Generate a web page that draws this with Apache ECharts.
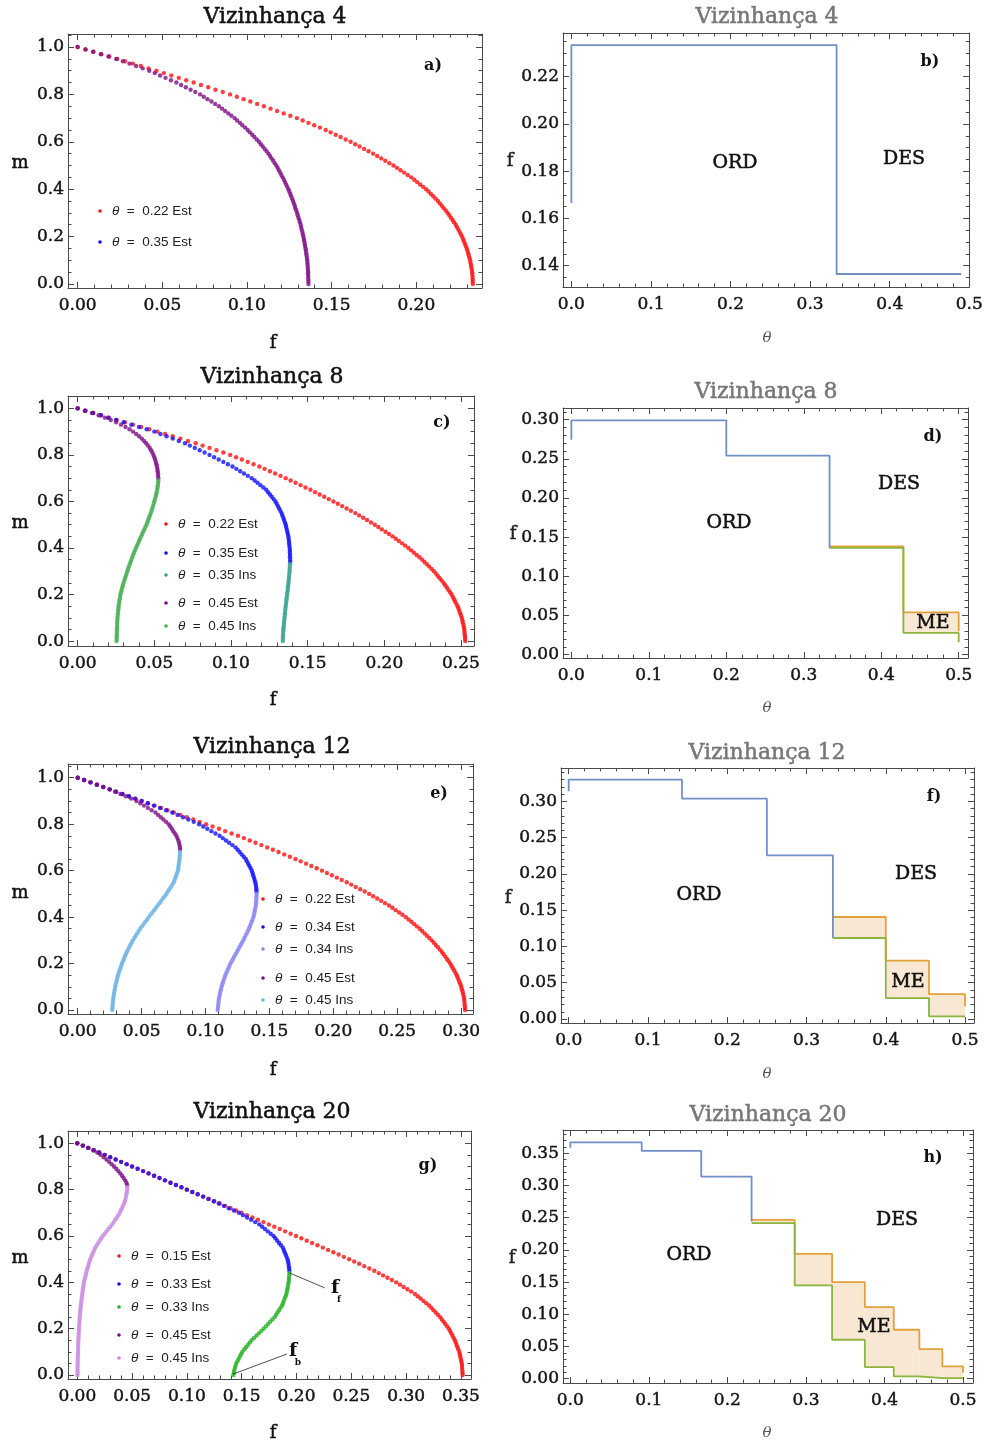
<!DOCTYPE html>
<html>
<head>
<meta charset="utf-8">
<script src="https://cdn.jsdelivr.net/npm/echarts@6/dist/echarts.min.js"></script>
<style>
html,body{margin:0;padding:0;background:#fff;}
#chart{width:986px;height:1445px;}
</style>
</head>
<body>
<div id="chart"></div>
<script>
// ---------- magnetisation curves m(f): one f value per m on the grid below ----------
const mGrid = [1.00,0.99,0.98,0.97,0.96,0.95,0.94,0.93,0.92,0.91,0.90,0.89,0.88,0.87,0.86,0.85,0.84,0.83,0.82,0.81,
  0.80,0.79,0.78,0.77,0.76,0.75,0.74,0.73,0.72,0.71,0.70,0.69,0.68,0.67,0.66,0.65,0.64,0.63,0.62,0.61,
  0.60,0.59,0.58,0.57,0.56,0.55,0.54,0.53,0.52,0.51,0.50,0.49,0.48,0.47,0.46,0.45,0.44,0.43,0.42,0.41,
  0.40,0.39,0.38,0.37,0.36,0.35,0.34,0.33,0.32,0.31,0.30,0.29,0.28,0.27,0.26,0.25,0.24,0.23,0.22,0.21,
  0.20,0.19,0.18,0.17,0.16,0.15,0.14,0.13,0.12,0.11,0.10,0.09,0.08,0.07,0.06,0.05,0.04,0.03,0.02,0.01,0.00];

// Vizinhança 4 (stable branches start at m = 1)
const aEst022 = [0.0000,0.0047,0.0094,0.0140,0.0187,0.0234,0.0280,0.0326,0.0373,0.0419,
  0.0465,0.0509,0.0553,0.0597,0.0641,0.0685,0.0728,0.0771,0.0814,0.0857,
  0.0900,0.0940,0.0980,0.1020,0.1060,0.1100,0.1139,0.1178,0.1217,0.1256,
  0.1295,0.1329,0.1363,0.1397,0.1431,0.1465,0.1494,0.1524,0.1553,0.1583,
  0.1612,0.1639,0.1665,0.1692,0.1718,0.1745,0.1769,0.1793,0.1817,0.1841,
  0.1865,0.1886,0.1907,0.1928,0.1949,0.1970,0.1988,0.2005,0.2023,0.2040,
  0.2058,0.2072,0.2086,0.2100,0.2114,0.2128,0.2139,0.2151,0.2162,0.2174,
  0.2185,0.2195,0.2204,0.2214,0.2223,0.2233,0.2240,0.2248,0.2255,0.2263,
  0.2270,0.2276,0.2281,0.2287,0.2292,0.2298,0.2302,0.2306,0.2310,0.2314,
  0.2318,0.2320,0.2323,0.2325,0.2328,0.2330,0.2331,0.2332,0.2333,0.2333,0.2334];
const aEst035 = [0.0000,0.0046,0.0091,0.0137,0.0182,0.0228,0.0267,0.0306,0.0345,0.0384,
  0.0423,0.0455,0.0487,0.0519,0.0551,0.0583,0.0611,0.0639,0.0667,0.0695,
  0.0723,0.0745,0.0767,0.0790,0.0812,0.0834,0.0853,0.0871,0.0890,0.0908,
  0.0927,0.0942,0.0958,0.0973,0.0989,0.1004,0.1017,0.1031,0.1044,0.1058,
  0.1071,0.1082,0.1093,0.1105,0.1116,0.1127,0.1136,0.1145,0.1155,0.1164,
  0.1173,0.1181,0.1188,0.1196,0.1203,0.1211,0.1218,0.1225,0.1231,0.1238,
  0.1245,0.1250,0.1256,0.1261,0.1267,0.1272,0.1277,0.1282,0.1286,0.1291,
  0.1296,0.1300,0.1304,0.1309,0.1313,0.1317,0.1320,0.1323,0.1327,0.1330,
  0.1333,0.1336,0.1338,0.1341,0.1343,0.1346,0.1348,0.1350,0.1352,0.1354,
  0.1356,0.1357,0.1358,0.1359,0.1360,0.1361,0.1361,0.1362,0.1362,0.1363,0.1363];

// Vizinhança 8 (unstable branches end at m = 0)
const cEst022 = [0.0000,0.0051,0.0102,0.0153,0.0204,0.0255,0.0308,0.0361,0.0414,0.0467,
  0.0520,0.0570,0.0620,0.0670,0.0720,0.0770,0.0815,0.0860,0.0905,0.0950,
  0.0995,0.1033,0.1071,0.1109,0.1147,0.1185,0.1219,0.1254,0.1288,0.1323,
  0.1357,0.1389,0.1421,0.1454,0.1486,0.1518,0.1548,0.1578,0.1608,0.1638,
  0.1668,0.1697,0.1725,0.1754,0.1782,0.1811,0.1836,0.1862,0.1887,0.1913,
  0.1938,0.1961,0.1984,0.2008,0.2031,0.2054,0.2075,0.2095,0.2116,0.2136,
  0.2157,0.2175,0.2193,0.2211,0.2229,0.2247,0.2262,0.2278,0.2293,0.2309,
  0.2324,0.2337,0.2349,0.2362,0.2374,0.2387,0.2397,0.2408,0.2418,0.2429,
  0.2439,0.2447,0.2455,0.2462,0.2470,0.2478,0.2484,0.2489,0.2495,0.2500,
  0.2506,0.2509,0.2512,0.2516,0.2519,0.2522,0.2523,0.2524,0.2526,0.2527,0.2528];
const cEst035 = [0.0000,0.0050,0.0100,0.0150,0.0200,0.0250,0.0300,0.0350,0.0400,0.0450,
  0.0500,0.0540,0.0580,0.0620,0.0660,0.0700,0.0732,0.0764,0.0796,0.0828,
  0.0860,0.0890,0.0920,0.0950,0.0980,0.1010,0.1035,0.1060,0.1085,0.1110,
  0.1135,0.1154,0.1173,0.1192,0.1211,0.1230,0.1242,0.1254,0.1266,0.1278,
  0.1290,0.1298,0.1306,0.1314,0.1322,0.1330,0.1335,0.1341,0.1346,0.1352,
  0.1357,0.1360,0.1364,0.1367,0.1371,0.1374,0.1376,0.1378,0.1379,0.1381,
  0.1383,0.1384,0.1384,0.1385,0.1385,0.1386,0.1386];
const cIns035 = [0.1385,0.1384,0.1383,0.1382,0.1381,0.1379,0.1378,0.1376,0.1375,0.1373,
  0.1371,0.1370,0.1368,0.1366,0.1364,0.1362,0.1361,0.1359,0.1357,0.1355,
  0.1354,0.1352,0.1351,0.1349,0.1348,0.1346,0.1345,0.1343,0.1342,0.1341,
  0.1340,0.1339,0.1338,0.1338];
const cEst045 = [0.0000,0.0047,0.0093,0.0137,0.0178,0.0216,0.0251,0.0283,0.0312,0.0338,
  0.0361,0.0382,0.0401,0.0418,0.0433,0.0447,0.0459,0.0470,0.0479,0.0487,
  0.0494,0.0500,0.0505,0.0510,0.0514,0.0517,0.0520,0.0522,0.0524,0.0525,0.0526];
const cIns045 = [0.0526,0.0525,0.0523,0.0521,0.0519,
  0.0516,0.0512,0.0509,0.0504,0.0500,0.0496,0.0491,0.0487,0.0482,0.0477,
  0.0471,0.0466,0.0460,0.0455,0.0449,0.0442,0.0435,0.0428,0.0421,0.0414,
  0.0407,0.0400,0.0394,0.0387,0.0380,0.0374,0.0368,0.0362,0.0356,0.0350,
  0.0345,0.0340,0.0334,0.0329,0.0324,0.0319,0.0314,0.0309,0.0304,0.0299,
  0.0295,0.0291,0.0287,0.0283,0.0279,0.0277,0.0274,0.0272,0.0269,0.0267,
  0.0266,0.0264,0.0263,0.0261,0.0260,0.0259,0.0258,0.0258,0.0257,0.0256,
  0.0256,0.0255,0.0255,0.0254,0.0254];

// Vizinhança 12
const eEst022 = [0.0000,0.0050,0.0100,0.0150,0.0200,0.0250,0.0300,0.0350,0.0400,0.0450,
  0.0500,0.0550,0.0601,0.0651,0.0702,0.0752,0.0803,0.0853,0.0904,0.0954,
  0.1005,0.1055,0.1105,0.1154,0.1204,0.1254,0.1300,0.1346,0.1391,0.1437,
  0.1483,0.1527,0.1571,0.1616,0.1660,0.1704,0.1745,0.1787,0.1828,0.1870,
  0.1911,0.1950,0.1989,0.2027,0.2066,0.2105,0.2140,0.2175,0.2211,0.2246,
  0.2281,0.2312,0.2343,0.2374,0.2405,0.2436,0.2462,0.2488,0.2515,0.2541,
  0.2567,0.2589,0.2611,0.2632,0.2654,0.2676,0.2695,0.2714,0.2732,0.2751,
  0.2770,0.2786,0.2802,0.2818,0.2834,0.2850,0.2863,0.2876,0.2889,0.2902,
  0.2915,0.2925,0.2935,0.2946,0.2956,0.2966,0.2973,0.2980,0.2988,0.2995,
  0.3002,0.3006,0.3011,0.3015,0.3020,0.3024,0.3025,0.3027,0.3028,0.3030,0.3031];
const eEst034 = [0.0000,0.0050,0.0100,0.0150,0.0200,0.0250,0.0300,0.0350,0.0400,0.0450,
  0.0500,0.0548,0.0596,0.0644,0.0692,0.0740,0.0782,0.0824,0.0866,0.0908,
  0.0950,0.0982,0.1014,0.1046,0.1078,0.1110,0.1135,0.1160,0.1185,0.1210,
  0.1235,0.1251,0.1267,0.1283,0.1299,0.1315,0.1324,0.1334,0.1343,0.1353,
  0.1362,0.1368,0.1373,0.1379,0.1384,0.1390,0.1393,0.1396,0.1398,0.1399];
const eIns034 = [0.1400,0.1399,0.1398,0.1397,0.1395,0.1394,0.1390,0.1386,0.1383,0.1379,
  0.1375,0.1368,0.1361,0.1354,0.1347,0.1340,0.1331,0.1322,0.1313,0.1304,
  0.1295,0.1285,0.1275,0.1265,0.1255,0.1245,0.1235,0.1225,0.1215,0.1205,
  0.1195,0.1187,0.1179,0.1171,0.1163,0.1155,0.1149,0.1143,0.1137,0.1131,
  0.1125,0.1121,0.1117,0.1113,0.1109,0.1105,0.1103,0.1101,0.1099,0.1097,0.1095];
const eEst045 = [0.0000,0.0050,0.0100,0.0150,0.0200,0.0250,0.0292,0.0334,0.0376,0.0418,
  0.0460,0.0490,0.0519,0.0549,0.0578,0.0608,0.0629,0.0650,0.0670,0.0691,
  0.0712,0.0724,0.0736,0.0748,0.0760,0.0772,0.0780,0.0787,0.0793,0.0797,0.0800,0.0801];
const eIns045 = [0.0800,0.0799,0.0798,
  0.0797,0.0794,0.0792,0.0789,0.0787,0.0784,0.0778,0.0771,0.0765,0.0758,
  0.0752,0.0740,0.0729,0.0717,0.0706,0.0694,0.0680,0.0667,0.0653,0.0640,
  0.0626,0.0612,0.0598,0.0584,0.0570,0.0556,0.0543,0.0529,0.0516,0.0502,
  0.0489,0.0477,0.0466,0.0454,0.0443,0.0431,0.0422,0.0412,0.0403,0.0393,
  0.0384,0.0376,0.0369,0.0361,0.0354,0.0346,0.0340,0.0334,0.0327,0.0321,
  0.0315,0.0311,0.0306,0.0302,0.0297,0.0293,0.0290,0.0287,0.0284,0.0281,
  0.0278,0.0276,0.0275,0.0273,0.0272,0.0270];

// Vizinhança 20
const gEst015 = [0.0000,0.0050,0.0100,0.0150,0.0200,0.0250,0.0300,0.0350,0.0400,0.0450,
  0.0500,0.0550,0.0600,0.0650,0.0700,0.0750,0.0800,0.0850,0.0900,0.0950,
  0.0999,0.1049,0.1099,0.1149,0.1199,0.1249,0.1299,0.1348,0.1398,0.1448,
  0.1498,0.1548,0.1598,0.1648,0.1698,0.1748,0.1797,0.1847,0.1896,0.1946,
  0.1995,0.2044,0.2093,0.2142,0.2191,0.2240,0.2288,0.2336,0.2384,0.2432,
  0.2480,0.2526,0.2572,0.2618,0.2664,0.2710,0.2750,0.2790,0.2830,0.2870,
  0.2910,0.2944,0.2978,0.3012,0.3046,0.3080,0.3106,0.3132,0.3158,0.3184,
  0.3210,0.3230,0.3250,0.3270,0.3290,0.3310,0.3326,0.3342,0.3358,0.3374,
  0.3390,0.3401,0.3412,0.3423,0.3434,0.3445,0.3453,0.3461,0.3469,0.3477,
  0.3485,0.3490,0.3494,0.3499,0.3503,0.3508,0.3510,0.3511,0.3513,0.3514,0.3516];
const gEst033 = [0.0000,0.0050,0.0100,0.0150,0.0200,0.0250,0.0300,0.0350,0.0400,0.0450,
  0.0500,0.0550,0.0600,0.0650,0.0700,0.0750,0.0800,0.0850,0.0900,0.0950,
  0.1000,0.1049,0.1098,0.1147,0.1196,0.1245,0.1291,0.1337,0.1383,0.1429,
  0.1475,0.1512,0.1549,0.1586,0.1623,0.1660,0.1686,0.1712,0.1738,0.1764,
  0.1790,0.1807,0.1824,0.1841,0.1858,0.1875,0.1884,0.1892,0.1901,0.1909,
  0.1918,0.1923,0.1927,0.1930,0.1933,0.1935];
const gIns033 = [0.1935,0.1934,0.1932,0.1930,
  0.1928,0.1924,0.1920,0.1916,0.1912,0.1908,0.1900,0.1892,0.1884,0.1876,
  0.1868,0.1854,0.1841,0.1827,0.1814,0.1800,0.1780,0.1760,0.1740,0.1720,
  0.1700,0.1678,0.1656,0.1634,0.1612,0.1590,0.1573,0.1556,0.1539,0.1522,
  0.1505,0.1494,0.1483,0.1472,0.1461,0.1450,0.1443,0.1437,0.1432,0.1428,0.1425];
const gEst045 = [0.0000,0.0050,0.0099,0.0145,0.0182,0.0212,0.0240,0.0266,0.0290,0.0313,
  0.0335,0.0355,0.0374,0.0392,0.0408,0.0423,0.0437,0.0448,0.0455];
const gIns045 = [0.0456,
  0.0455,0.0452,0.0448,0.0444,0.0440,0.0435,0.0426,0.0416,0.0407,0.0397,
  0.0388,0.0374,0.0360,0.0346,0.0332,0.0318,0.0301,0.0284,0.0266,0.0249,
  0.0232,0.0218,0.0205,0.0191,0.0178,0.0164,0.0155,0.0146,0.0136,0.0127,
  0.0118,0.0112,0.0105,0.0099,0.0092,0.0086,0.0081,0.0076,0.0070,0.0065,
  0.0060,0.0057,0.0054,0.0051,0.0048,0.0045,0.0042,0.0040,0.0037,0.0035,
  0.0032,0.0030,0.0028,0.0026,0.0024,0.0022,0.0021,0.0019,0.0018,0.0016,
  0.0015,0.0014,0.0013,0.0012,0.0011,0.0010,0.0009,0.0008,0.0008,0.0007,
  0.0006,0.0005,0.0005,0.0004,0.0004,0.0003,0.0003,0.0003,0.0002,0.0002,0.0002];

// ---------- phase diagrams f(θ): left edge of each step and its level ----------
const bThetaOrd = [0, 0, 0.3333, 0.49];
const bFOrd     = [0.1665, 0.2334, 0.1365, 0.1365];

const dThetaOrd = [0, 0, 0.2, 0.3333];
const dFOrd     = [0.2744, 0.2991, 0.2540, 0.1362];
const dThetaME  = [0.3333, 0.4286, 0.5];
const dFUpper   = [0.1383, 0.0540, 0.0298];
const dFLower   = [0.1362, 0.0277, 0.0157];

const fThetaOrd = [0, 0, 0.1429, 0.25, 0.3333];
const fFOrd     = [0.3137, 0.3298, 0.3036, 0.2255, 0.1116];
const fThetaME  = [0.3333, 0.4, 0.4545, 0.5];
const fFUpper   = [0.1406, 0.0804, 0.0344, 0.0175];
const fFLower   = [0.1116, 0.0289, 0.0037, 0.0030];

const hThetaOrd = [0, 0, 0.0909, 0.1667, 0.2308];
const hFOrd     = [0.3588, 0.3671, 0.3537, 0.3139, 0.2440];
const hThetaME  = [0.2308, 0.2857, 0.3333, 0.375, 0.4118, 0.4444, 0.4737, 0.5];
const hFUpper   = [0.2466, 0.1939, 0.1500, 0.1112, 0.0760, 0.0460, 0.0191, 0.0098];
const hFLower   = [0.2415, 0.1448, 0.0605, 0.0181, 0.0036, 0.0010, 0.0010, 0.0010];

// ---------- tick labels ----------
const mTicks     = ['0.0','0.2','0.4','0.6','0.8','1.0'];
const aFTicks    = ['0.00','0.05','0.10','0.15','0.20'];
const cFTicks    = ['0.00','0.05','0.10','0.15','0.20','0.25'];
const eFTicks    = ['0.00','0.05','0.10','0.15','0.20','0.25','0.30'];
const gFTicks    = ['0.00','0.05','0.10','0.15','0.20','0.25','0.30','0.35'];
const thetaTicks = ['0.0','0.1','0.2','0.3','0.4','0.5'];
const bFTicks    = ['0.14','0.16','0.18','0.20','0.22'];
const dFTicks    = ['0.00','0.05','0.10','0.15','0.20','0.25','0.30'];
const fFTicks    = ['0.00','0.05','0.10','0.15','0.20','0.25','0.30'];
const hFTicks    = ['0.00','0.05','0.10','0.15','0.20','0.25','0.30','0.35'];

// ---------- styling ----------
const FRAME = '#4a4a4a';
const SERIF = '"DejaVu Serif", serif';
const SANS = '"Liberation Sans", Arial, sans-serif';
const C = {
  red: '#ff1010', blue: '#1010ff', purple: '#7e0f86',
  teal: '#36a08c', green8: '#45ad4f', lavender: '#8a84f2', sky: '#6cb2e2',
  green20: '#27b327', lilac: '#c98be0',
  ord: '#6f91c8', upper: '#e3a13a', lower: '#8db43e', band: '#f8e8d3'
};

const option = {
  animation: false,
  backgroundColor: '#ffffff',
  grid: [], xAxis: [], yAxis: [], series: [], graphic: []
};

function minorValues(min, max, step, majors) {
  const out = [];
  for (let k = Math.ceil(min / step - 1e-9); k * step <= max + 1e-9; k++) {
    const v = +(k * step).toFixed(6);
    if (!majors.some(t => Math.abs(t - v) < 1e-9)) out.push(v);
  }
  return out;
}

function axisDef(gi, pos, min, max, ticks, len, withLine, labels, dim) {
  return {
    type: 'value', gridIndex: gi, position: pos, min: min, max: max, silent: true,
    axisLine: { show: withLine, onZero: false, lineStyle: { color: FRAME, width: 1 } },
    axisTick: { show: true, inside: true, length: len, customValues: ticks,
      lineStyle: { color: FRAME, width: 1 } },
    axisLabel: labels ? {
      show: true, customValues: ticks,
      formatter: v => {
        const i = ticks.findIndex(t => Math.abs(t - v) < 1e-9);
        return i >= 0 ? labels[i] : '';
      },
      fontFamily: SERIF, fontSize: 17, color: '#151515',
      textBorderColor: '#151515', textBorderWidth: 0.45,
      margin: dim === 'x' ? 9 : 4
    } : { show: false },
    splitLine: { show: false }
  };
}

// framed axes: labelled major + minor ticks on the primary side, mirrored ticks opposite
function addAxes(list, gi, dim, range, labels, minorStep) {
  const majors = labels.map(Number);
  const minors = minorValues(range[0], range[1], minorStep, majors);
  const sides = dim === 'x' ? ['bottom', 'top'] : ['left', 'right'];
  const first = list.length;
  sides.forEach((pos, s) => {
    list.push(axisDef(gi, pos, range[0], range[1], majors, 6, true, s === 0 ? labels : null, dim));
    list.push(axisDef(gi, pos, range[0], range[1], minors, 3.5, false, null, dim));
  });
  return first;
}

function panel(box, xRange, xLabels, xMinor, yRange, yLabels, yMinor) {
  const gi = option.grid.length;
  option.grid.push({ left: box[0], top: box[1], width: box[2], height: box[3], show: false });
  return {
    xi: addAxes(option.xAxis, gi, 'x', xRange, xLabels, xMinor),
    yi: addAxes(option.yAxis, gi, 'y', yRange, yLabels, yMinor)
  };
}

// stable branches start at m = 1, unstable ones end at m = 0
function dots(p, fs, color, fromTop, extra) {
  const ms = fromTop ? mGrid.slice(0, fs.length) : mGrid.slice(mGrid.length - fs.length);
  option.series.push(Object.assign({
    type: 'scatter', xAxisIndex: p.xi, yAxisIndex: p.yi, silent: true,
    symbol: 'circle', symbolSize: 4.4, itemStyle: { color: color },
    data: fs.map((f, i) => [f, ms[i]])
  }, extra || {}));
}

function stepLine(p, thetas, fs, color) {
  option.series.push({
    type: 'line', step: 'end', xAxisIndex: p.xi, yAxisIndex: p.yi, silent: true,
    symbol: 'none', showSymbol: false, clip: true,
    lineStyle: { color: color, width: 1.8 },
    data: thetas.map((t, i) => [t, fs[i]])
  });
}

// shaded ME region between the lower and upper step curves
function band(p, thetas, lower, upper) {
  option.series.push({
    type: 'custom', xAxisIndex: p.xi, yAxisIndex: p.yi, silent: true, clip: true,
    data: thetas.slice(0, -1).map((t, i) => [t, thetas[i + 1], lower[i], upper[i]]),
    encode: { x: [0, 1], y: [2, 3] },
    renderItem: (params, api) => {
      const a = api.coord([api.value(0), api.value(3)]);
      const b = api.coord([api.value(1), api.value(2)]);
      return { type: 'rect', shape: { x: a[0], y: a[1], width: b[0] - a[0], height: b[1] - a[1] },
        style: { fill: C.band } };
    }
  });
}

function text(x, y, s, font, fill, align, extra) {
  option.graphic.push({
    type: 'text', x: x, y: y, z: 100, silent: true,
    style: Object.assign({ text: s, font: font, fill: fill, align: align || 'center', verticalAlign: 'middle' }, extra || {})
  });
}

function legend(x, ys, labels, colors) {
  labels.forEach((lab, i) => {
    option.graphic.push({ type: 'circle', z: 100, silent: true, shape: { cx: x, cy: ys[i], r: 1.8 }, style: { fill: colors[i] } });
    text(x + 12, ys[i], '{t|θ}  =  ' + lab, '13.5px ' + SANS, '#222', 'left',
      { rich: { t: { fontStyle: 'italic', fontSize: 13.5, fontFamily: SANS, fill: '#222' } } });
  });
}

// ---------- left column: m versus f ----------
const pa = panel([68, 34, 414, 254], [-0.0057, 0.2388], aFTicks, 0.01, [-0.017, 1.055], mTicks, 0.05);
dots(pa, aEst022, C.red, true);
dots(pa, aEst035, C.purple, true);

const pc = panel([68, 396, 406, 250], [-0.0063, 0.2585], cFTicks, 0.01, [-0.021, 1.053], mTicks, 0.05);
dots(pc, cEst022, C.red, true);
dots(pc, cEst035, C.blue, true);
dots(pc, cIns035, C.teal, false);
dots(pc, cEst045, C.purple, true);
dots(pc, cIns045, C.green8, false);

const pe = panel([68, 764, 405, 250], [-0.0076, 0.3093], eFTicks, 0.01, [-0.017, 1.059], mTicks, 0.05);
dots(pe, eEst022, C.red, true);
dots(pe, eEst034, C.blue, true);
dots(pe, eIns034, C.lavender, false);
dots(pe, eEst045, C.purple, true);
dots(pe, eIns045, C.sky, false);

const pg = panel([68, 1131, 403, 248], [-0.0085, 0.3592], gFTicks, 0.01, [-0.017, 1.053], mTicks, 0.05);
dots(pg, gEst015, C.red, true);
dots(pg, gEst033, C.blue, true);
dots(pg, gIns033, C.green20, false, {
  markLine: {
    silent: true, symbol: ['none', 'none'], label: { show: false },
    lineStyle: { color: '#222', width: 0.8, type: 'solid' },
    data: [
      [{ coord: [0.1940, 0.440] }, { coord: [0.2258, 0.376] }],
      [{ coord: [0.1420, 0.004] }, { coord: [0.1913, 0.091] }]
    ]
  }
});
dots(pg, gEst045, C.purple, true);
dots(pg, gIns045, C.lilac, false);

// ---------- right column: f versus θ ----------
const pb = panel([563, 33, 409, 254], [-0.0105, 0.5], thetaTicks, 0.02, [0.131, 0.2385], bFTicks, 0.005);
stepLine(pb, bThetaOrd, bFOrd, C.ord);

const pd = panel([563, 408, 405, 250], [-0.0108, 0.512], thetaTicks, 0.02, [-0.0043, 0.3149], dFTicks, 0.01);
band(pd, dThetaME, dFLower, dFUpper);
stepLine(pd, dThetaME, dFUpper, C.upper);
stepLine(pd, dThetaME, dFLower, C.lower);
stepLine(pd, dThetaOrd, dFOrd, C.ord);

const pf = panel([561, 768, 413, 255], [-0.0097, 0.5113], thetaTicks, 0.02, [-0.0055, 0.3459], fFTicks, 0.01);
band(pf, fThetaME, fFLower, fFUpper);
stepLine(pf, fThetaME, fFUpper, C.upper);
stepLine(pf, fThetaME, fFLower, C.lower);
stepLine(pf, fThetaOrd, fFOrd, C.ord);

const ph = panel([563, 1130, 410, 253], [-0.0093, 0.5127], thetaTicks, 0.02, [-0.0067, 0.3862], hFTicks, 0.01);
band(ph, hThetaME, hFLower, hFUpper);
stepLine(ph, hThetaME, hFUpper, C.upper);
stepLine(ph, hThetaME, hFLower, C.lower);
stepLine(ph, hThetaOrd, hFOrd, C.ord);

// ---------- titles, axis names, panel letters ----------
const TITLE = '22px ' + SERIF;
const heavy = c => ({ stroke: c, lineWidth: 0.5 });
text(275, 17, 'Vizinhança 4', TITLE, '#111', 'center', heavy('#111'));
text(767, 17, 'Vizinhança 4', TITLE, '#777', 'center', heavy('#777'));
text(272, 377, 'Vizinhança 8', TITLE, '#111', 'center', heavy('#111'));
text(766, 392, 'Vizinhança 8', TITLE, '#777', 'center', heavy('#777'));
text(272, 747, 'Vizinhança 12', TITLE, '#111', 'center', heavy('#111'));
text(767, 753, 'Vizinhança 12', TITLE, '#777', 'center', heavy('#777'));
text(272, 1112, 'Vizinhança 20', TITLE, '#111', 'center', heavy('#111'));
text(768, 1115, 'Vizinhança 20', TITLE, '#777', 'center', heavy('#777'));

const NAME = '18px ' + SERIF;
const THETA = 'italic 15px ' + SERIF;
[[163, 343], [523, 700], [893, 1070], [1258, 1433]].forEach(([my, fy]) => {
  text(20, my, 'm', NAME, '#111', 'center', heavy('#111'));
  text(273, fy, 'f', NAME, '#111', 'center', heavy('#111'));
});
[[510, 161, 338], [513, 534, 708], [508, 898, 1074], [512, 1258, 1433]].forEach(([x, fy, ty]) => {
  text(x, fy, 'f', NAME, '#222', 'center', heavy('#222'));
  text(767, ty, 'θ', THETA, '#555');
});

const LETTER = 'bold 16px ' + SERIF;
text(433, 66, 'a)', LETTER, '#111');
text(930, 62, 'b)', LETTER, '#111');
text(442, 423, 'c)', LETTER, '#111');
text(933, 437, 'd)', LETTER, '#111');
text(439, 794, 'e)', LETTER, '#111');
text(934, 797, 'f)', LETTER, '#111');
text(428, 1166, 'g)', LETTER, '#111');
text(933, 1158, 'h)', LETTER, '#111');

const REGION = '19px ' + SERIF;
[[735, 163, 'ORD'], [904, 159, 'DES'],
 [729, 523, 'ORD'], [899, 484, 'DES'], [933, 623, 'ME'],
 [699, 895, 'ORD'], [916, 874, 'DES'], [908, 982, 'ME'],
 [689, 1255, 'ORD'], [897, 1220, 'DES'], [874, 1327, 'ME']].forEach(([x, y, s]) => {
  text(x, y, s, REGION, '#111', 'center', heavy('#111'));
});

// f_f and f_b markers in panel g
text(335, 1288, 'f', 'bold 19px ' + SERIF, '#111');
text(339, 1300, 'f', 'bold 9px ' + SERIF, '#111');
text(293, 1351, 'f', 'bold 19px ' + SERIF, '#111');
text(298, 1363, 'b', 'bold 9px ' + SERIF, '#111');

// ---------- legends ----------
legend(100, [211, 242], ['0.22 Est', '0.35 Est'], [C.red, C.blue]);
legend(166, [524, 553, 575, 603, 626], ['0.22 Est', '0.35 Est', '0.35 Ins', '0.45 Est', '0.45 Ins'],
  [C.red, C.blue, C.teal, C.purple, C.green8]);
legend(263, [899, 927, 949, 978, 1000], ['0.22 Est', '0.34 Est', '0.34 Ins', '0.45 Est', '0.45 Ins'],
  [C.red, C.blue, C.lavender, C.purple, C.sky]);
legend(119, [1256, 1284, 1307, 1335, 1358], ['0.15 Est', '0.33 Est', '0.33 Ins', '0.45 Est', '0.45 Ins'],
  [C.red, C.blue, C.green20, C.purple, C.lilac]);

const chart = echarts.init(document.getElementById('chart'));
chart.setOption(option);
</script>
</body>
</html>
